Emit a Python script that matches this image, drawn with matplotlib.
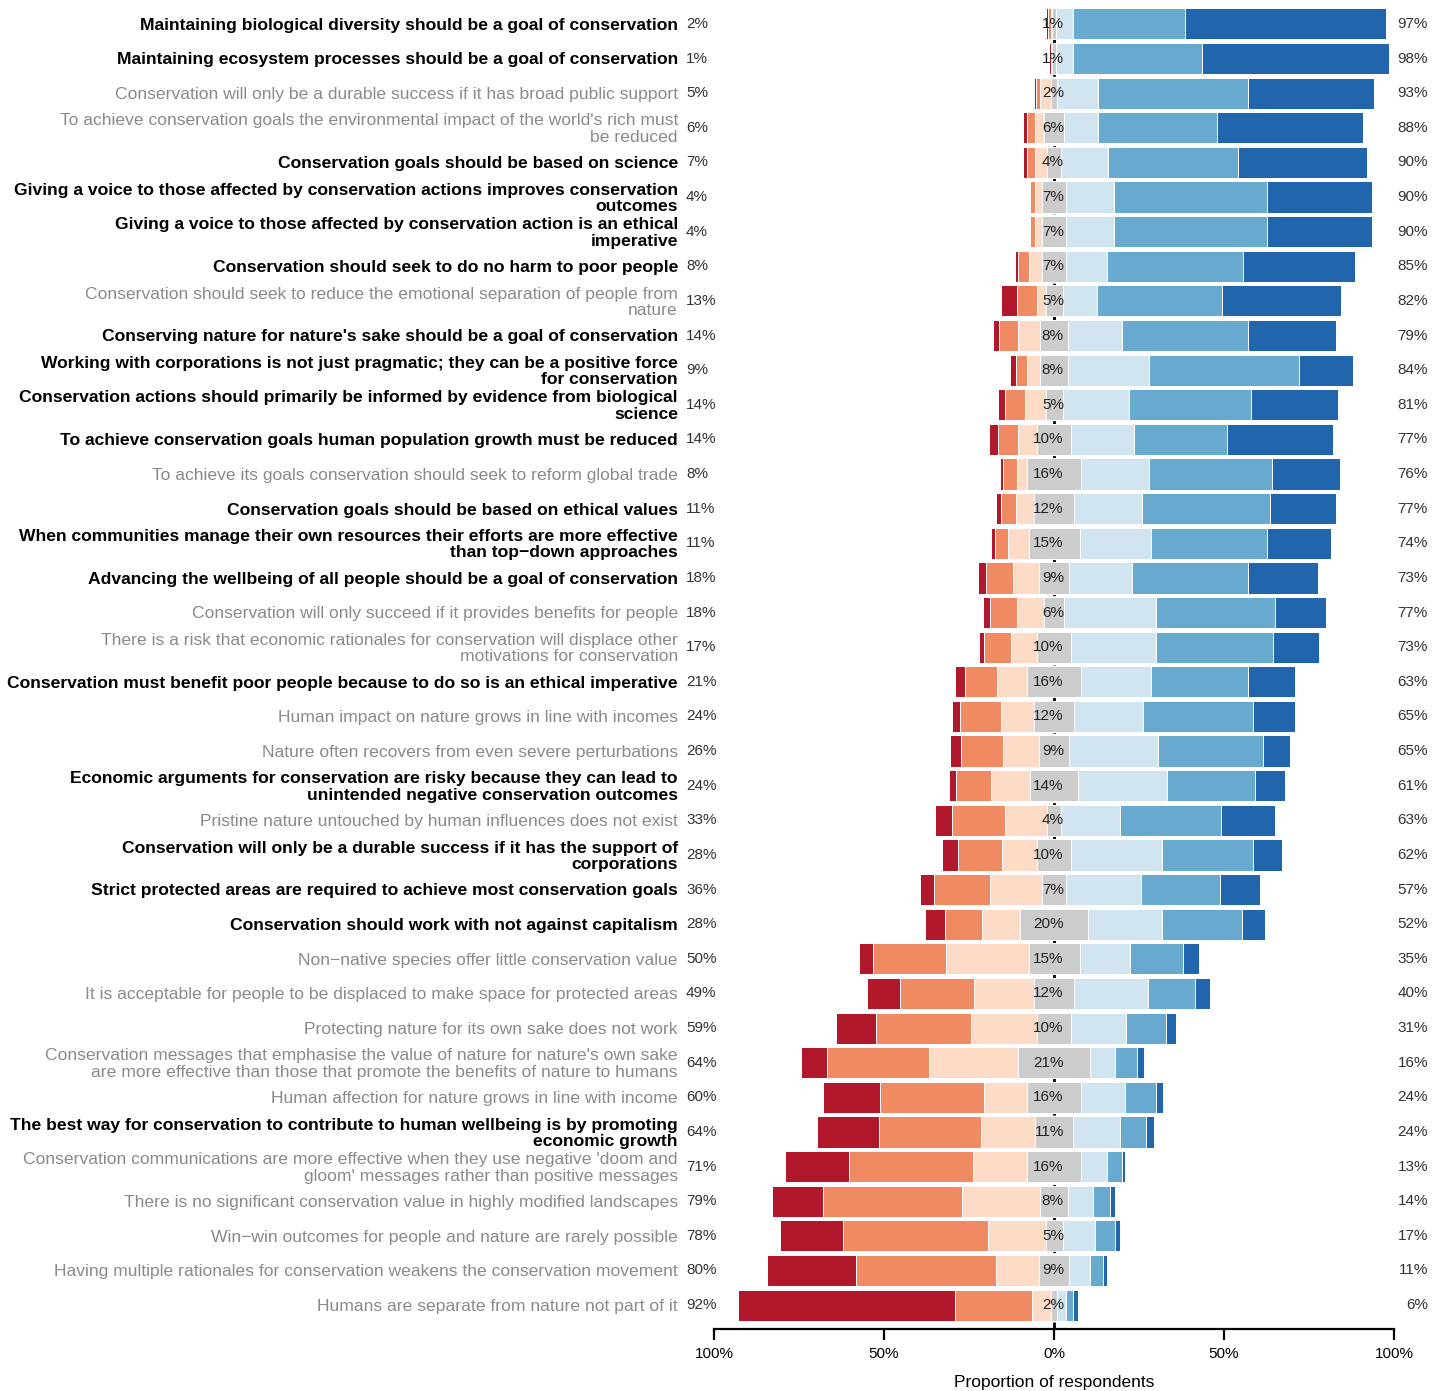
import numpy as np
import matplotlib
matplotlib.use("Agg")
import matplotlib.pyplot as plt

plt.rcParams['font.family'] = ['Liberation Sans', 'DejaVu Sans']

statements = [
    "Maintaining biological diversity should be a goal of conservation",
    "Maintaining ecosystem processes should be a goal of conservation",
    "Conservation will only be a durable success if it has broad public support",
    "To achieve conservation goals the environmental impact of the world's rich must\nbe reduced",
    "Conservation goals should be based on science",
    "Giving a voice to those affected by conservation actions improves conservation\noutcomes",
    "Giving a voice to those affected by conservation action is an ethical\nimperative",
    "Conservation should seek to do no harm to poor people",
    "Conservation should seek to reduce the emotional separation of people from\nnature",
    "Conserving nature for nature's sake should be a goal of conservation",
    "Working with corporations is not just pragmatic; they can be a positive force\nfor conservation",
    "Conservation actions should primarily be informed by evidence from biological\nscience",
    "To achieve conservation goals human population growth must be reduced",
    "To achieve its goals conservation should seek to reform global trade",
    "Conservation goals should be based on ethical values",
    "When communities manage their own resources their efforts are more effective\nthan top\u2212down approaches",
    "Advancing the wellbeing of all people should be a goal of conservation",
    "Conservation will only succeed if it provides benefits for people",
    "There is a risk that economic rationales for conservation will displace other\nmotivations for conservation",
    "Conservation must benefit poor people because to do so is an ethical imperative",
    "Human impact on nature grows in line with incomes",
    "Nature often recovers from even severe perturbations",
    "Economic arguments for conservation are risky because they can lead to\nunintended negative conservation outcomes",
    "Pristine nature untouched by human influences does not exist",
    "Conservation will only be a durable success if it has the support of\ncorporations",
    "Strict protected areas are required to achieve most conservation goals",
    "Conservation should work with not against capitalism",
    "Non\u2212native species offer little conservation value",
    "It is acceptable for people to be displaced to make space for protected areas",
    "Protecting nature for its own sake does not work",
    "Conservation messages that emphasise the value of nature for nature's own sake\nare more effective than those that promote the benefits of nature to humans",
    "Human affection for nature grows in line with income",
    "The best way for conservation to contribute to human wellbeing is by promoting\neconomic growth",
    "Conservation communications are more effective when they use negative 'doom and\ngloom' messages rather than positive messages",
    "There is no significant conservation value in highly modified landscapes",
    "Win\u2212win outcomes for people and nature are rarely possible",
    "Having multiple rationales for conservation weakens the conservation movement",
    "Humans are separate from nature not part of it",
]

bold = [1, 1, 0, 0, 1, 1, 1, 1, 0, 1, 1, 1, 1, 0, 1, 1, 1, 0, 0, 1,
        0, 0, 1, 0, 1, 1, 1, 0, 0, 0, 0, 0, 1, 0, 0, 0, 0, 0]

strongly_disagree = [0.8, 0.5, 0.7, 1.0, 1.2, 0.5, 0.5, 1.0, 4.5, 1.7, 1.7, 2.0, 2.5, 1.0, 1.4, 1.0, 2.6, 2.2, 1.4,
                     2.8, 2.4, 3.2, 2.2, 5.0, 4.8, 4.3, 5.8, 4.3, 9.8, 11.6, 7.4, 16.7, 18.2, 19.0, 14.9, 18.3, 26.4, 63.9]
disagree = [0.7, 0.3, 1.3, 2.5, 2.2, 1.5, 1.5, 3.0, 6.0, 5.8, 3.3, 6.0, 5.8, 4.0, 4.4, 4.0, 7.7, 7.9, 8.0,
            9.4, 12.1, 12.3, 10.2, 15.5, 13.0, 16.5, 11.0, 21.5, 21.8, 28.0, 30.2, 30.7, 30.0, 36.4, 40.9, 42.7, 41.0, 22.6]
somewhat_disagree = [0.5, 0.2, 3.0, 2.5, 3.6, 2.0, 2.0, 4.0, 2.5, 6.5, 4.0, 6.0, 5.7, 3.0, 5.2, 6.0, 7.7, 7.9, 7.6,
                     8.8, 9.5, 10.5, 11.6, 12.5, 10.2, 15.2, 11.2, 24.2, 17.4, 19.4, 26.2, 12.5, 16.0, 15.8, 23.0, 17.0, 12.6, 5.5]
neutral = [1, 1, 2, 6, 4, 7, 7, 7, 5, 8, 8, 5, 10, 16, 12, 15, 9, 6, 10,
           16, 12, 9, 14, 4, 10, 7, 20, 15, 12, 10, 21, 16, 11, 16, 8, 5, 9, 2]
somewhat_agree = [5, 5, 12, 10, 14, 14, 14, 12, 10, 16, 24, 19.5, 18.5, 20, 20, 21, 18.5, 27, 25,
                  20.5, 20.3, 26, 26.2, 17.5, 26.8, 22, 21.7, 14.9, 21.6, 16.2, 7.4, 13, 14, 7.5, 7.4, 9.5, 6.2, 2.6]
agree = [33, 38, 44, 35, 38, 45, 45, 40, 37, 37, 44, 36, 27.5, 36, 37.5, 34, 34, 35, 34.5,
         28.7, 32.1, 31, 25.9, 29.5, 26.8, 23.2, 23.7, 15.6, 14, 11.8, 6.4, 9, 7.7, 4.4, 5.2, 5.8, 3.75, 2.1]
strongly_agree = [59, 55, 37, 43, 38, 31, 31, 33, 35, 26, 16, 25.5, 31, 20, 19.5, 19, 20.5, 15, 13.5,
                  13.8, 12.6, 8, 8.9, 16, 8.4, 11.8, 6.6, 4.5, 4.4, 3, 2.3, 2, 2.3, 1.1, 1.4, 1.7, 1.1, 1.3]

pct_disagree = [2, 1, 5, 6, 7, 4, 4, 8, 13, 14, 9, 14, 14, 8, 11, 11, 18, 18, 17,
                21, 24, 26, 24, 33, 28, 36, 28, 50, 49, 59, 64, 60, 64, 71, 79, 78, 80, 92]
pct_neutral = [1, 1, 2, 6, 4, 7, 7, 7, 5, 8, 8, 5, 10, 16, 12, 15, 9, 6, 10,
               16, 12, 9, 14, 4, 10, 7, 20, 15, 12, 10, 21, 16, 11, 16, 8, 5, 9, 2]
pct_agree = [97, 98, 93, 88, 90, 90, 90, 85, 82, 79, 84, 81, 77, 76, 77, 74, 73, 77, 73,
             63, 65, 65, 61, 63, 62, 57, 52, 35, 40, 31, 16, 24, 24, 13, 14, 17, 11, 6]

tick_values = [-100, -50, 0, 50, 100]
tick_labels = ["100%", "50%", "0%", "50%", "100%"]

colors = ['#b2182b', '#ef8a62', '#fddbc7', '#cccccc', '#d1e5f0', '#67a9cf', '#2166ac']

fig = plt.figure(figsize=(14.32, 13.91), dpi=100)
ax = fig.add_axes([714 / 1432, 1 - 1329 / 1391, 680 / 1432, 1329 / 1391])

n_rows = len(statements)
y = np.arange(n_rows)
sd = np.array(strongly_disagree)
d = np.array(disagree)
swd = np.array(somewhat_disagree)
nn = np.array(neutral, dtype=float)
swa = np.array(somewhat_agree)
a = np.array(agree)
sa = np.array(strongly_agree)

half = nn / 2
h = 0.9
ek = dict(height=h, edgecolor='white', linewidth=0.7, zorder=2)
ax.barh(y, swd, left=-half - swd, color=colors[2], **ek)
ax.barh(y, d, left=-half - swd - d, color=colors[1], **ek)
ax.barh(y, sd, left=-half - swd - d - sd, color=colors[0], **ek)
ax.barh(y, nn, left=-half, color=colors[3], **ek)
ax.barh(y, swa, left=half, color=colors[4], **ek)
ax.barh(y, a, left=half + swa, color=colors[5], **ek)
ax.barh(y, sa, left=half + swa + a, color=colors[6], **ek)

ax.axvline(0, color='black', lw=2, ls=(0, (2.5, 3)), zorder=1)

ax.set_xlim(-100, 100)
ax.set_ylim(n_rows - 1 + 0.69, -0.69)

fs = 12.6
pfs = 11
for i in range(n_rows):
    ax.text(-110.6, i + 0.04, statements[i], ha='right', va='center', fontsize=fs,
            fontweight='bold' if bold[i] else 'normal',
            color='black' if bold[i] else '#8a8a8a', linespacing=1.12, clip_on=False)
    ax.text(-108.2, i, f"{pct_disagree[i]}%", ha='left', va='center', fontsize=pfs,
            color='#333333', clip_on=False)
    ax.text(2.9, i, f"{pct_neutral[i]}%", ha='right', va='center', fontsize=pfs,
            color='#222222', zorder=5)
    ax.text(110, i, f"{pct_agree[i]}%", ha='right', va='center', fontsize=pfs,
            color='#333333', clip_on=False)

for s in ['left', 'top', 'right']:
    ax.spines[s].set_visible(False)
ax.spines['bottom'].set_bounds(-100, 100)
ax.spines['bottom'].set_linewidth(1.6)
ax.set_yticks([])
ax.set_xticks(tick_values)
ax.set_xticklabels(tick_labels, fontsize=11)
ax.tick_params(axis='x', length=8, width=1.6, pad=5)
ax.set_xlabel("Proportion of respondents", fontsize=12.5, labelpad=10)
ax.patch.set_visible(False)

fig.savefig("out.png", dpi=100)
